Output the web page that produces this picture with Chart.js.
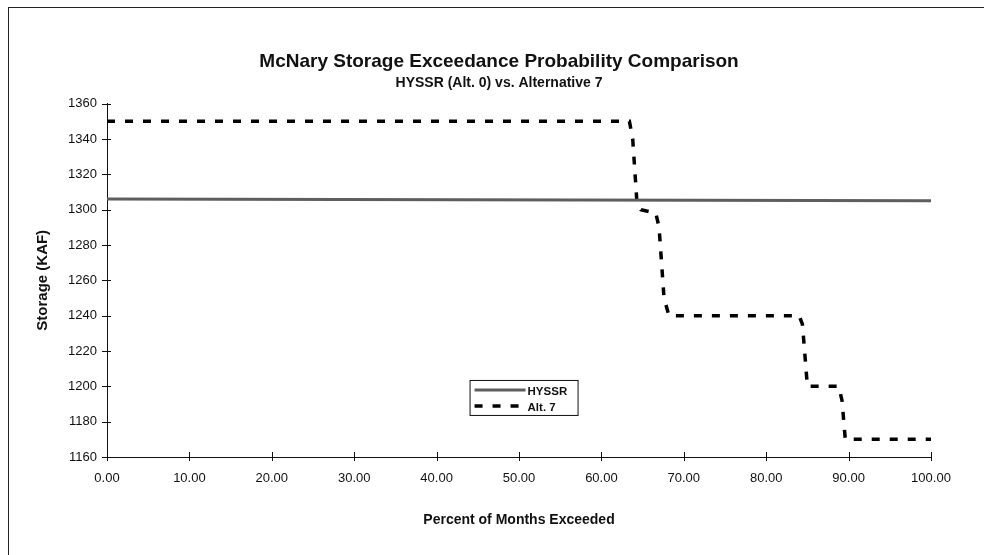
<!DOCTYPE html>
<html>
<head>
<meta charset="utf-8">
<script src="https://cdn.jsdelivr.net/npm/chart.js@4.4.1/dist/chart.umd.min.js"></script>
<style>
    html, body { margin: 0; padding: 0; background: #fff; overflow: hidden; }
    #wrap { position: relative; width: 984px; height: 555px; }
    #frame { position: absolute; left: 8px; top: 7px; width: 1000px; height: 600px; border: 1px solid #222; box-sizing: border-box; }
    canvas { position: absolute; left: 0; top: 0; }
</style>
</head>
<body>
<div id="wrap">
    <div id="frame"></div>
    <canvas id="storageChart" width="984" height="555"></canvas>
</div>
<script>
    // == DỮ LIỆU ==
    const pctHyssr = [0, 100];
    const hyssr = [1306, 1305];

    const pctAlt7 = [0, 63.4, 63.8, 64.3, 64.8, 66.6, 67.0, 67.6, 68.2, 84.0, 84.4, 85.0, 88.8, 89.2, 89.6, 100];
    const alt7 = [1350, 1350, 1340, 1305, 1300, 1298, 1290, 1250, 1240, 1240, 1235, 1200, 1200, 1192, 1170, 1170];

    const xTicks = [0, 10, 20, 30, 40, 50, 60, 70, 80, 90, 100];
    const yTicks = [1160, 1180, 1200, 1220, 1240, 1260, 1280, 1300, 1320, 1340, 1360];

    const seriesNames = ['HYSSR', 'Alt. 7'];
    const titleText = 'McNary Storage Exceedance Probability Comparison';
    const subtitleText = 'HYSSR (Alt. 0) vs. Alternative 7';

    const FONT = "'Liberation Sans', Arial, sans-serif";

    function toPoints(xs, ys) {
        return xs.map((x, i) => ({ x: x, y: ys[i] }));
    }

    // -- vẽ vạch chia cắt ngang trục (kiểu Excel cũ)
    const crossTicks = {
        id: 'crossTicks',
        afterDatasetsDraw(chart) {
            const ctx = chart.ctx;
            const xs = chart.scales.x, ys = chart.scales.y;
            ctx.save();
            ctx.strokeStyle = '#111';
            ctx.lineWidth = 1;
            ctx.beginPath();
            yTicks.forEach(v => {
                const y = Math.round(ys.getPixelForValue(v)) + 0.5;
                ctx.moveTo(xs.left - 5, y);
                ctx.lineTo(xs.left + 4, y);
            });
            xTicks.forEach(v => {
                const x = Math.round(xs.getPixelForValue(v)) + 0.5;
                ctx.moveTo(x, ys.bottom - 5);
                ctx.lineTo(x, ys.bottom + 4);
            });
            ctx.stroke();
            ctx.restore();
        }
    };

    // -- chú thích đặt bên trong vùng vẽ
    const innerLegend = {
        id: 'innerLegend',
        afterDraw(chart) {
            const ctx = chart.ctx;
            const area = chart.chartArea;
            const bx = area.left + (area.right - area.left) * 0.4400;
            const by = area.top + (area.bottom - area.top) * 0.782;
            const bw = 108, bh = 35;
            ctx.save();
            ctx.fillStyle = '#fff';
            ctx.fillRect(bx, by, bw, bh);
            ctx.strokeStyle = '#111';
            ctx.lineWidth = 1;
            ctx.strokeRect(bx + 0.5, by + 0.5, bw, bh);
            ctx.font = 'bold 11.5px ' + FONT;
            ctx.textBaseline = 'middle';
            chart.data.datasets.forEach((ds, i) => {
                const y = by + 10 + i * 16;
                ctx.beginPath();
                ctx.strokeStyle = ds.borderColor;
                ctx.lineWidth = ds.borderWidth;
                ctx.setLineDash(ds.borderDash || []);
                ctx.moveTo(bx + 5, y);
                ctx.lineTo(bx + 56, y);
                ctx.stroke();
                ctx.setLineDash([]);
                ctx.fillStyle = '#111';
                ctx.fillText(ds.label, bx + 58, y + 2);
            });
            ctx.restore();
        }
    };

    const ctx = document.getElementById('storageChart').getContext('2d');
    const storageChart = new Chart(ctx, {
        type: 'line',
        data: {
            datasets: [{
                label: seriesNames[0],
                data: toPoints(pctHyssr, hyssr),
                borderColor: '#5e5e5e',
                borderWidth: 3,
                pointRadius: 0,
                tension: 0
            }, {
                label: seriesNames[1],
                data: toPoints(pctAlt7, alt7),
                borderColor: '#000',
                borderWidth: 3.5,
                borderDash: [8, 10],
                pointRadius: 0,
                tension: 0
            }]
        },
        options: {
            responsive: false,
            animation: false,
            events: [],
            layout: { padding: { left: 67, right: 53, top: 0, bottom: 0 } },
            plugins: {
                legend: { display: false },
                tooltip: { enabled: false },
                title: {
                    display: true,
                    text: titleText,
                    color: '#111',
                    font: { family: FONT, size: 19, weight: 'bold' },
                    padding: { top: 50, bottom: 2 }
                },
                subtitle: {
                    display: true,
                    text: subtitleText,
                    color: '#111',
                    font: { family: FONT, size: 14, weight: 'bold' },
                    padding: { top: 0, bottom: 12 }
                }
            },
            scales: {
                x: {
                    type: 'linear',
                    min: 0,
                    max: 100,
                    afterBuildTicks: (scale) => { scale.ticks = xTicks.map(v => ({ value: v })); },
                    afterFit: (scale) => { scale.height = 98; },
                    grid: { display: false, drawTicks: false },
                    border: { display: true, color: '#111', width: 1 },
                    ticks: {
                        color: '#111',
                        padding: 14,
                        maxRotation: 0,
                        font: { family: FONT, size: 13 },
                        callback: v => v.toFixed(2)
                    },
                    title: {
                        display: true,
                        text: 'Percent of Months Exceeded',
                        color: '#111',
                        font: { family: FONT, size: 14, weight: 'bold' },
                        padding: { top: 26, bottom: 26 }
                    }
                },
                y: {
                    min: 1160,
                    max: 1360,
                    afterBuildTicks: (scale) => { scale.ticks = yTicks.map(v => ({ value: v })); },
                    afterFit: (scale) => { scale.width = 40; },
                    grid: { display: false, drawTicks: false },
                    border: { display: true, color: '#111', width: 1 },
                    ticks: {
                        color: '#111',
                        padding: 10,
                        font: { family: FONT, size: 13 },
                        callback: v => String(v)
                    },
                    title: {
                        display: true,
                        text: 'Storage (KAF)',
                        color: '#111',
                        font: { family: FONT, size: 15, weight: 'bold' },
                        padding: { top: -33, bottom: -33 }
                    }
                }
            }
        },
        plugins: [crossTicks, innerLegend]
    });
</script>
</body>
</html>
